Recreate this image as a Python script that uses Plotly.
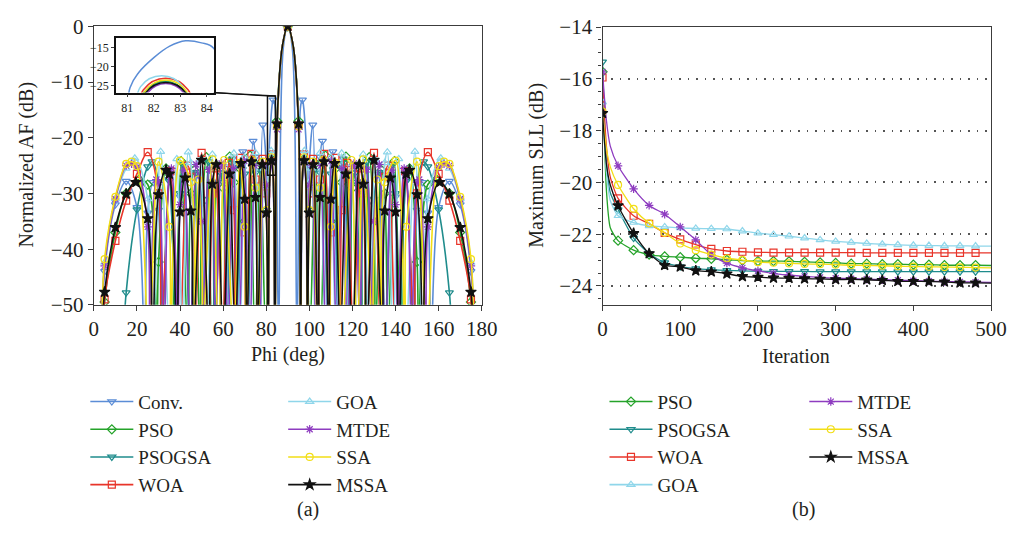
import plotly.graph_objects as go

W, H = 1026, 539
F = -56  # level used for pattern nulls (below the -50 dB axis floor)

# ---------------- (a) normalized array factor, half pattern 0..90 deg (symmetric about 90 deg) -------------
conv_phi = [3.9, 5, 10, 15, 20, 23.5, 25, 27.5, 30, 31.5, 35, 38.5, 40, 41.8, 45, 48, 50, 51, 53.8, 55, 56.5,
            59.1, 60, 61.7, 64.2, 65, 66.7, 69.1, 70, 71.5, 73.9, 75, 76.2, 78.4, 80, 80.6, 81.1, 81.43, 82.0,
            82.6, 83.2, 83.8, 84.27, 85.77, 87.9, 90]
conv_db = [F, -44, -32, -27.8, -32.5, F, -33.5, -28, -33, F, -27.5, F, -30.6, -27, F, -26.5, -32, F, -25.7, -28,
           F, -24.8, -26.2, F, -23.8, -25, F, -22.5, -24.1, F, -20.6, -23.5, F, -17.7, -25, F, -25.5, -21.5,
           -17.6, -14.6, -13.2, -13.75, -15.25, F, -3.9, 0]

pso_phi = [4.5, 5, 10, 15, 21, 25, 29.2, 30, 33.5, 35, 37.5, 40.5, 43.5, 45, 46.5, 49.3, 50, 52.2, 55, 57.7, 60,
           60.6, 63, 65, 65.8, 68, 70, 70.6, 72.5, 74.8, 77.2, 79.8, 81.6, 82.4, 83.2, 84.1, 85, 87.5, 90]
pso_db = [F, -49.5, -37, -30, -27.5, -28.4, F, -42.3, -25.5, -26.5, F, -24.2, F, -30, -25.8, F, -35, -23.5, F,
          -25.2, -29, F, -23.4, -28, F, -25.6, -35, F, -23.2, F, -24.6, F, -26.9, -23.8, -26.9, F, -17.0, -3.5, 0]

psogsa_phi = [13.8, 15, 20, 25, 27, 30, 31.5, 35, 38.5, 40, 41.5, 44.7, 47.6, 50, 50.7, 53.3, 55, 56, 58.8, 60,
              61.5, 64, 65, 66.5, 68.9, 70, 71.3, 73.6, 75, 75.9, 78, 80, 80.8, 81.63, 82.45, 83.25, 84.05, 85,
              87.5, 90]
psogsa_db = [F, -47.8, -32.9, -25.2, -24.3, -28, F, -27.8, F, -30, -24.8, F, -26.2, -31, F, -24.3, -30, F, -26.3,
             -28, F, -24.6, -25.3, F, -25.7, -26.5, F, -24.5, -26.3, F, -25.9, -33, F, -27.1, -24.0, -27.1, F,
             -17.8, -3.5, 0]

woa_phi = [4.6, 5, 10, 15, 20, 25, 30, 31.2, 35.5, 39.8, 43.5, 45, 46.9, 50, 53.4, 55, 56.5, 59.6, 62.6, 65,
           65.6, 67.9, 70, 70.5, 73.1, 75, 75.8, 78.3, 80, 80.85, 81.6, 82.45, 83.3, 84.1, 85, 87.5, 90]
woa_db = [F, -49, -38.5, -31.3, -26.5, -22.6, -30, F, -26.0, F, -25.0, -27, F, -22.7, F, -30, -25.5, F, -24.5,
          -33, F, -23.6, -37, F, -22.9, -27.5, F, -23.8, -30, F, -26.1, -23.0, -26.1, F, -17.8, -3.5, 0]

goa_phi = [3.6, 5, 10, 15, 19, 25, 27.3, 31, 35.3, 38.5, 41.2, 43.8, 45, 46.5, 49.5, 52.3, 55, 57.7, 60.3, 62.7,
           65, 67.7, 70, 72.5, 75, 77.2, 79, 80, 80.85, 81.5, 82.3, 83.1, 84.0, 85, 87.5, 90]
goa_db = [F, -42.4, -31, -25.5, -23.7, -31, F, -22.5, F, -23.8, F, -22.6, -24.5, F, -24.0, F, -23.0, F, -24.8, F,
          -22.8, F, -23.5, F, -22.7, F, -25.5, -28, F, -25.2, -22.35, -25.2, F, -18.2, -3.6, 0]

mtde_phi = [3.7, 5, 10, 15, 17.5, 20, 25, 26, 29, 30, 32.5, 35, 36, 39, 40, 41.8, 44.8, 47.5, 50, 50.6, 53.5, 55,
            56.4, 59.3, 60, 62.2, 64.8, 67.3, 69.8, 72.3, 74.6, 76.9, 78.8, 80, 80.95, 81.7, 82.45, 83.2, 84.0,
            85, 87.5, 90]
mtde_db = [F, -43, -31, -25, -24.7, -25.3, -36, F, -27.5, -28, F, -26.5, -25.5, F, -32, -25.8, F, -24.8, -35, F,
           -25.7, -28, F, -24.6, -25.2, F, -25.5, F, -24.2, F, -25.0, F, -24.9, -28.5, F, -27.4, -24.4, -27.4, F,
           -18.5, -3.6, 0]

ssa_phi = [3.8, 5, 10, 15, 17.5, 20, 25.5, 30, 35, 35.6, 40, 45, 46.5, 48.5, 50.3, 50.6, 55, 57.8, 60.5, 64.9,
           67.8, 70, 70.6, 73.5, 75, 76.2, 78.5, 80, 80.85, 81.65, 82.45, 83.25, 84.05, 85, 87.5, 90]
ssa_db = [F, -41.8, -30.6, -24.7, -24.3, -25.1, F, -24.3, -36, F, -24.1, -28, F, -27.5, -44.7, F, -23.9, F,
          -24.0, F, -24.5, -36, F, -24.0, -29, F, -24.3, -33, F, -26.6, -23.5, -26.6, F, -18.0, -3.6, 0]

mssa_phi = [3.8, 5, 10, 15, 19.5, 25, 27.3, 30, 33.5, 35, 38.5, 40, 42.4, 45, 46.2, 50, 53.3, 55, 56.8, 60, 63,
            65.6, 68.3, 70, 71, 73.2, 75, 76, 78.2, 80, 80.85, 81.65, 82.45, 83.25, 84.05, 85, 87.5, 90]
mssa_db = [F, -47.7, -36.1, -30.1, -28.0, -34.5, F, -30.2, -25.8, -26.5, F, -33.3, -27.2, -33.1, F, -24.0, F,
           -28.3, -24.8, F, -26.5, F, -24.6, -31.0, F, -24.3, -30.7, F, -24.8, -33.5, F, -27.2, -24.1, -27.2, F,
           -17.5, -3.5, 0]

# ---------------- (b) convergence of maximum SLL -------------
ITER = [0, 5, 10, 20, 40, 60, 80, 100, 120, 140, 160, 180, 200, 220, 240, 260, 280, 300, 320, 340, 360, 380,
        400, 420, 440, 460, 480, 500]
sll_pso = [-15.73, -20.3, -21.75, -22.25, -22.62, -22.79, -22.86, -22.89, -22.93, -22.95, -22.99, -23.02, -23.04,
           -23.04, -23.05, -23.07, -23.09, -23.11, -23.14, -23.14, -23.16, -23.16, -23.18, -23.18, -23.2, -23.2,
           -23.2, -23.21]
sll_psogsa = [-15.35, -19.2, -20.4, -21.05, -22.15, -22.75, -23.1, -23.25, -23.33, -23.37, -23.4, -23.42, -23.43,
              -23.44, -23.44, -23.44, -23.45, -23.45, -23.45, -23.45, -23.45, -23.45, -23.45, -23.45, -23.45,
              -23.45, -23.45, -23.45]
sll_woa = [-15.95, -18.6, -19.8, -20.62, -21.29, -21.6, -21.95, -22.2, -22.4, -22.57, -22.65, -22.68, -22.7,
           -22.71, -22.71, -22.71, -22.71, -22.71, -22.71, -22.72, -22.72, -22.72, -22.72, -22.72, -22.72, -22.72,
           -22.72, -22.72]
sll_goa = [-16.9, -19.6, -20.7, -21.29, -21.55, -21.68, -21.72, -21.76, -21.78, -21.79, -21.8, -21.88, -21.96,
           -22.02, -22.08, -22.15, -22.22, -22.28, -22.32, -22.36, -22.39, -22.41, -22.43, -22.44, -22.45, -22.45,
           -22.46, -22.46]
sll_mtde = [-15.73, -17.6, -18.6, -19.36, -20.25, -20.89, -21.23, -21.72, -22.22, -22.8, -23.12, -23.3, -23.42,
            -23.52, -23.58, -23.63, -23.67, -23.7, -23.72, -23.74, -23.76, -23.78, -23.8, -23.81, -23.83, -23.84,
            -23.85, -23.86]
sll_ssa = [-17.27, -18.7, -19.4, -20.1, -21.02, -21.58, -21.95, -22.36, -22.62, -22.79, -22.93, -23.0, -23.08,
           -23.1, -23.13, -23.15, -23.16, -23.18, -23.2, -23.21, -23.22, -23.24, -23.25, -23.26, -23.27, -23.28,
           -23.29, -23.3]
sll_mssa = [-17.33, -19.3, -20.1, -20.9, -21.97, -22.75, -23.2, -23.26, -23.41, -23.45, -23.53, -23.63, -23.66,
            -23.69, -23.7, -23.72, -23.73, -23.75, -23.75, -23.76, -23.78, -23.82, -23.82, -23.83, -23.84, -23.88,
            -23.88, -23.89]

# ---------------- styles -------------
STY = {
    "Conv.":  dict(color="#5b8dd6", symbol="triangle-down-open"),
    "PSO":    dict(color="#25a32a", symbol="diamond-open"),
    "PSOGSA": dict(color="#1f8c8c", symbol="triangle-down-open"),
    "WOA":    dict(color="#e8352a", symbol="square-open"),
    "GOA":    dict(color="#8fd6ea", symbol="triangle-up-open"),
    "MTDE":   dict(color="#8e3cc0", symbol="asterisk-open"),
    "SSA":    dict(color="#f2de16", symbol="circle-open"),
    "MSSA":   dict(color="#111111", symbol="star"),
}
PAT = [("Conv.", conv_phi, conv_db), ("PSO", pso_phi, pso_db), ("PSOGSA", psogsa_phi, psogsa_db),
       ("WOA", woa_phi, woa_db), ("GOA", goa_phi, goa_db), ("MTDE", mtde_phi, mtde_db),
       ("SSA", ssa_phi, ssa_db), ("MSSA", mssa_phi, mssa_db)]
CONV = [("PSO", sll_pso), ("PSOGSA", sll_psogsa), ("WOA", sll_woa), ("GOA", sll_goa),
        ("MTDE", sll_mtde), ("SSA", sll_ssa), ("MSSA", sll_mssa)]

FONT = "Liberation Serif, Times New Roman, serif"
TXT = "#231f20"

def mk(name, size=7):
    s = STY[name]
    sz = size + 1 if s["symbol"] == "star" else size
    return dict(symbol=s["symbol"], color=s["color"], size=sz,
                line=dict(color=s["color"], width=1.2))

fig = go.Figure()

legend_a = {"Conv.": "legend", "PSO": "legend", "PSOGSA": "legend", "WOA": "legend",
            "GOA": "legend2", "MTDE": "legend2", "SSA": "legend2", "MSSA": "legend2"}
legend_b = {"PSO": "legend3", "PSOGSA": "legend3", "WOA": "legend3", "GOA": "legend3",
            "MTDE": "legend4", "SSA": "legend4", "MSSA": "legend4"}

for name, hx, hy in PAT:
    # full pattern: the array factor is symmetric about broadside (90 deg)
    x = list(hx) + [180 - v for v in reversed(hx[:-1])]
    y = list(hy) + list(reversed(hy[:-1]))
    c = STY[name]["color"]
    fig.add_trace(go.Scatter(x=x, y=y, mode="lines", line=dict(color=c, width=1.6, shape="spline", smoothing=1),
                             showlegend=False, xaxis="x", yaxis="y", hoverinfo="skip"))
    # markers: every 5 deg sample and every lobe peak
    mx, my = [], []
    for i in range(len(x)):
        five = abs(x[i] / 5 - round(x[i] / 5)) < 1e-6
        peak = 0 < i < len(x) - 1 and y[i] > y[i - 1] and y[i] > y[i + 1]
        if (five or peak) and y[i] > F:
            mx.append(x[i]); my.append(y[i])
    fig.add_trace(go.Scatter(x=mx, y=my, mode="markers", marker=mk(name), showlegend=False,
                             xaxis="x", yaxis="y", hoverinfo="skip"))
    # inset (zoom of the first side lobe)
    fig.add_trace(go.Scatter(x=x, y=y, mode="lines", line=dict(color=c, width=1.5, shape="spline", smoothing=1),
                             showlegend=False, xaxis="x3", yaxis="y3", hoverinfo="skip"))
    fig.add_trace(go.Scatter(x=[None], y=[None], mode="lines+markers", name=name, marker=mk(name),
                             line=dict(color=c, width=1.6), legend=legend_a[name], xaxis="x", yaxis="y"))

for name, vals in CONV:
    c = STY[name]["color"]
    fig.add_trace(go.Scatter(x=ITER, y=vals, mode="lines", line=dict(color=c, width=1.3, shape="spline", smoothing=0.6),
                             showlegend=False, xaxis="x2", yaxis="y2", hoverinfo="skip"))
    mx = [ITER[i] for i in range(len(ITER)) if ITER[i] % 20 == 0 and ITER[i] < 500]
    my = [vals[i] for i in range(len(ITER)) if ITER[i] % 20 == 0 and ITER[i] < 500]
    fig.add_trace(go.Scatter(x=mx, y=my, mode="markers", marker=mk(name), showlegend=False,
                             xaxis="x2", yaxis="y2", hoverinfo="skip"))
    fig.add_trace(go.Scatter(x=[None], y=[None], mode="lines+markers", name=name, marker=mk(name),
                             line=dict(color=c, width=1.6), legend=legend_b[name], xaxis="x2", yaxis="y2"))

# ---------------- layout -------------
def px_x(p): return p / W
def px_y(p): return 1 - p / H

A_X = [90.7, 486.7]; A_Y = [15.0, 306.5]
B_X = [610.0, 1006.7]; B_Y = [15.7, 306.5]
I_X = [113.3, 213.3]; I_Y = [27.3, 84.3]
XR_A = [0, 180]; YR_A = [-50, 0]
XR_I = [80.57, 84.27]; YR_I = [-26.75, -12.5]

axis_common = dict(showline=True, mirror=True, linecolor="#3c3c3c", linewidth=1.3, ticks="outside",
                   ticklen=5, tickwidth=1.2, tickcolor="#3c3c3c", showgrid=False, zeroline=False,
                   tickfont=dict(family=FONT, size=21, color=TXT))

fig.update_layout(
    width=W, height=H, margin=dict(l=0, r=0, t=0, b=0),
    paper_bgcolor="white", plot_bgcolor="white",
    font=dict(family=FONT, size=20, color=TXT),
    xaxis=dict(domain=[px_x(A_X[0]), px_x(A_X[1])], range=XR_A, dtick=20, anchor="y", **axis_common),
    yaxis=dict(domain=[px_y(A_Y[1]), px_y(A_Y[0])], range=YR_A, dtick=10, anchor="x", **axis_common),
    xaxis2=dict(domain=[px_x(B_X[0]), px_x(B_X[1])], range=[0, 500], dtick=100, anchor="y2", **axis_common),
    yaxis2=dict(domain=[px_y(B_Y[1]), px_y(B_Y[0])], range=[-24.73, -14], tick0=-14, dtick=2, anchor="x2",
                **{**axis_common, "showgrid": True}, gridcolor="#555555", griddash="1.5px,7px", gridwidth=1.5,
                minor=dict(dtick=0.5, ticks="outside", ticklen=3, tickcolor="#3c3c3c")),
    xaxis3=dict(domain=[px_x(I_X[0]), px_x(I_X[1])], range=XR_I, tickvals=[81, 82, 83, 84], anchor="y3",
                **{**axis_common, "tickfont": dict(family=FONT, size=12, color=TXT), "ticklen": 3,
                   "linecolor": "#111111", "linewidth": 1.5}),
    yaxis3=dict(domain=[px_y(I_Y[1]), px_y(I_Y[0])], range=YR_I, tickvals=[-25, -20, -15], anchor="x3",
                **{**axis_common, "tickfont": dict(family=FONT, size=12, color=TXT), "ticklen": 3,
                   "linecolor": "#111111", "linewidth": 1.5}),
)

leg_common = dict(font=dict(family=FONT, size=19, color=TXT), bgcolor="rgba(0,0,0,0)", yanchor="top",
                  xanchor="left", tracegroupgap=0, itemwidth=43)
fig.update_layout(
    legend=dict(x=px_x(82), y=px_y(388), **leg_common),
    legend2=dict(x=px_x(284), y=px_y(388), **leg_common),
    legend3=dict(x=px_x(612), y=px_y(388), **leg_common),
    legend4=dict(x=px_x(816), y=px_y(388), **leg_common),
)

# zoom box on the main pattern and connectors to the inset
def data_x(p): return XR_A[0] + (p - A_X[0]) / (A_X[1] - A_X[0]) * (XR_A[1] - XR_A[0])
def data_y(p): return YR_A[1] - (p - A_Y[0]) / (A_Y[1] - A_Y[0]) * (YR_A[1] - YR_A[0])

cx, cy = data_x(I_X[1]), data_y(I_Y[1])
fig.add_shape(type="rect", xref="x", yref="y", x0=XR_I[0], x1=XR_I[1], y0=YR_I[0], y1=YR_I[1],
              line=dict(color="#111111", width=1.5))
fig.add_shape(type="line", xref="x", yref="y", x0=cx, y0=cy, x1=XR_I[0], y1=YR_I[1],
              line=dict(color="#111111", width=1.2))
fig.add_shape(type="line", xref="x", yref="y", x0=cx, y0=cy, x1=XR_I[1], y1=YR_I[1],
              line=dict(color="#111111", width=1.2))

ann = [
    dict(text="Normalized AF (dB)", x=px_x(22), y=px_y(160), textangle=-90),
    dict(text="Phi (deg)", x=px_x(289), y=px_y(358)),
    dict(text="Maximum SLL (dB)", x=px_x(543), y=px_y(160), textangle=-90),
    dict(text="Iteration", x=px_x(808), y=px_y(360)),
    dict(text="(a)", x=px_x(309), y=px_y(521)),
    dict(text="(b)", x=px_x(815), y=px_y(521)),
]
for a in ann:
    fig.add_annotation(xref="paper", yref="paper", xanchor="center", yanchor="middle", showarrow=False,
                       font=dict(family=FONT, size=20, color=TXT), **a)

fig.write_html("out.html")
